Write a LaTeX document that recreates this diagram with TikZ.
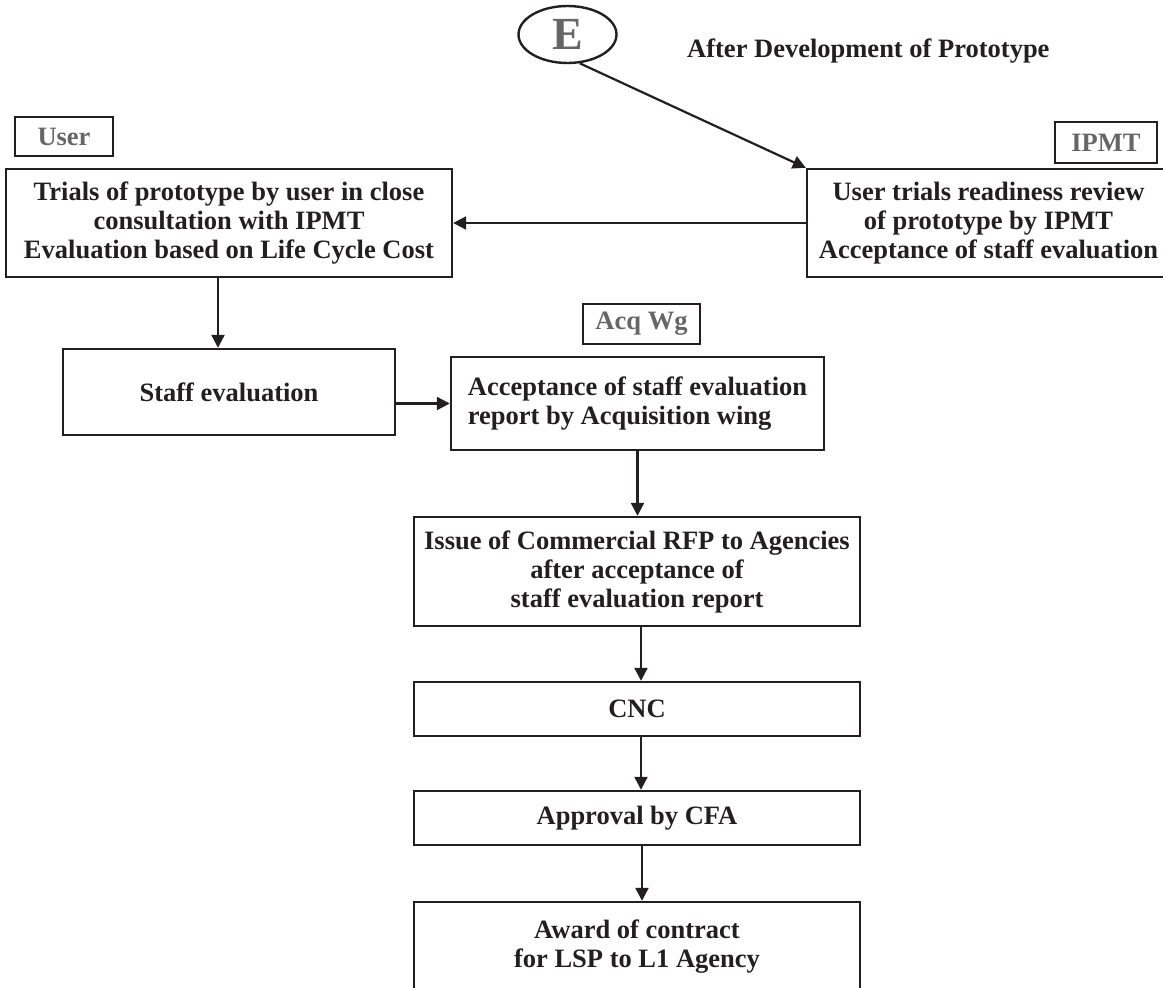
\documentclass[tikz,border=0pt]{standalone}
\usepackage{fontspec}
\setmainfont{Liberation Serif}
\usetikzlibrary{arrows.meta,shapes.geometric}
\definecolor{ink}{HTML}{231F20}
\definecolor{lbl}{HTML}{666666}
\begin{document}
\begin{tikzpicture}[x=1pt,y=-1pt,
  font=\fontsize{26.5}{29}\selectfont\bfseries,
  box/.style={draw=ink,line width=2.4pt,inner sep=0pt,align=center,text=ink},
  tag/.style={draw=ink,line width=2.4pt,inner sep=0pt,text=lbl},
  conn/.style={draw=ink,line width=2.2pt,-{Triangle[length=13pt,width=13pt]}}]
\useasboundingbox (0,0) rectangle (1163,988);
\node[ellipse,draw=ink,line width=2.4pt,minimum width=98pt,minimum height=57pt,inner sep=0pt,text=lbl,font=\fontsize{46}{46}\selectfont\bfseries] (E) at (567.5,34.5) {E};
\node[anchor=base west,inner sep=0pt,text=ink] (after) at (687,57) {After Development of Prototype};
\node[tag,minimum width=98pt,minimum height=39pt] (userlbl) at (64,136.5) {User};
\node[tag,minimum width=102pt,minimum height=41pt] (ipmtlbl) at (1106,142.5) {IPMT};
\node[box,minimum width=446pt,minimum height=108pt] (trials) at (229,223) {Trials of prototype by user in close\\consultation with IPMT\\Evaluation based on Life Cycle Cost};
\node[box,minimum width=363pt,minimum height=108pt] (ut) at (988.5,223) {User trials readiness review\\of prototype by IPMT\\Acceptance of staff evaluation};
\node[box,minimum width=332pt,minimum height=86pt] (staff) at (229,392) {Staff evaluation};
\node[tag,minimum width=117pt,minimum height=40pt] (acqlbl) at (641.5,324) {Acq Wg};
\node[box,align=left,minimum width=373pt,minimum height=93pt] (acc) at (637.5,403.5) {Acceptance of staff evaluation\\report by Acquisition wing};
\node[box,minimum width=446pt,minimum height=109pt] (issue) at (637,571.5) {Issue of Commercial RFP to Agencies\\after acceptance of\\staff evaluation report};
\node[box,minimum width=446pt,minimum height=54pt] (cnc) at (637,709) {CNC};
\node[box,minimum width=446pt,minimum height=54pt] (appr) at (637,818) {Approval by CFA};
\node[box,minimum width=446pt,minimum height=90pt] (award) at (637,947) {Award of contract\\for LSP to L1 Agency};
\draw[conn] (E.-67) -- (ut.north west);
\draw[conn] (ut.west) -- (trials.east);
\draw[conn] ([xshift=-11pt]trials.south) -- ([xshift=-11pt]trials.south |- staff.north);
\draw[conn] (staff.east |- acc.west) -- (acc.west);
\draw[conn] (acc.south) -- (acc.south |- issue.north);
\draw[conn] ([xshift=4pt]issue.south) -- ([xshift=4pt]cnc.north);
\draw[conn] ([xshift=4pt]cnc.south) -- ([xshift=4pt]appr.north);
\draw[conn] ([xshift=5pt]appr.south) -- ([xshift=5pt]award.north);
\end{tikzpicture}
\end{document}
